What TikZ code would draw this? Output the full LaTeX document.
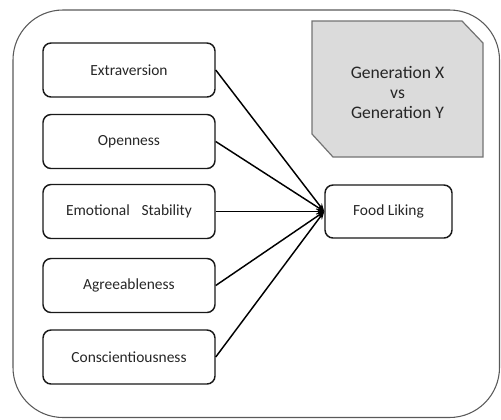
\documentclass[tikz,border=0pt]{standalone}
\usepackage{fontspec}
\setmainfont{Carlito}
\usetikzlibrary{arrows.meta}
\begin{document}
\begin{tikzpicture}[x=0.75pt,y=-0.75pt,
  trait/.style={draw=black!90, line width=1.1pt, rounded corners=6pt, minimum width=129pt, minimum height=40.5pt, inner sep=0pt, font=\fontsize{11.6}{14}\selectfont, text=black!85},
  outcome/.style={trait, minimum width=95.25pt, minimum height=39.75pt},
  link/.style={line width=1.1pt, -{Stealth[length=6pt,width=4.5pt]}}]
\useasboundingbox (0,0) rectangle (501,419);
% outer frame
\draw[draw=black!65, line width=0.8pt, rounded corners=37.5pt] (13,10) rectangle (499.5,417.5);
% generation box
\draw[draw=black!55, fill=black!14, line width=0.9pt] (312,21) -- (462,21) -- (483,43) -- (483,157) -- (333,157) -- (312,134) -- cycle;
\node[align=center, font=\fontsize{13.2}{15}\selectfont, text=black!85] (gen) at (397.5,92) {Generation X\\vs\\Generation Y};
% traits
\node[trait] (ext) at (129,70) {Extraversion};
\node[trait] (ope) at (129,141.5) {Openness};
\node[trait] (emo) at (129,211.5) {Emotional\hspace{0.75em}Stability};
\node[trait] (agr) at (129,285.5) {Agreeableness};
\node[trait] (con) at (129,357) {Conscientiousness};
\node[outcome] (food) at (388.5,211.5) {Food Liking};
\foreach \n in {ext,ope,emo,agr,con}
  \draw[link] (\n.east) -- (food.west);
\end{tikzpicture}
\end{document}
